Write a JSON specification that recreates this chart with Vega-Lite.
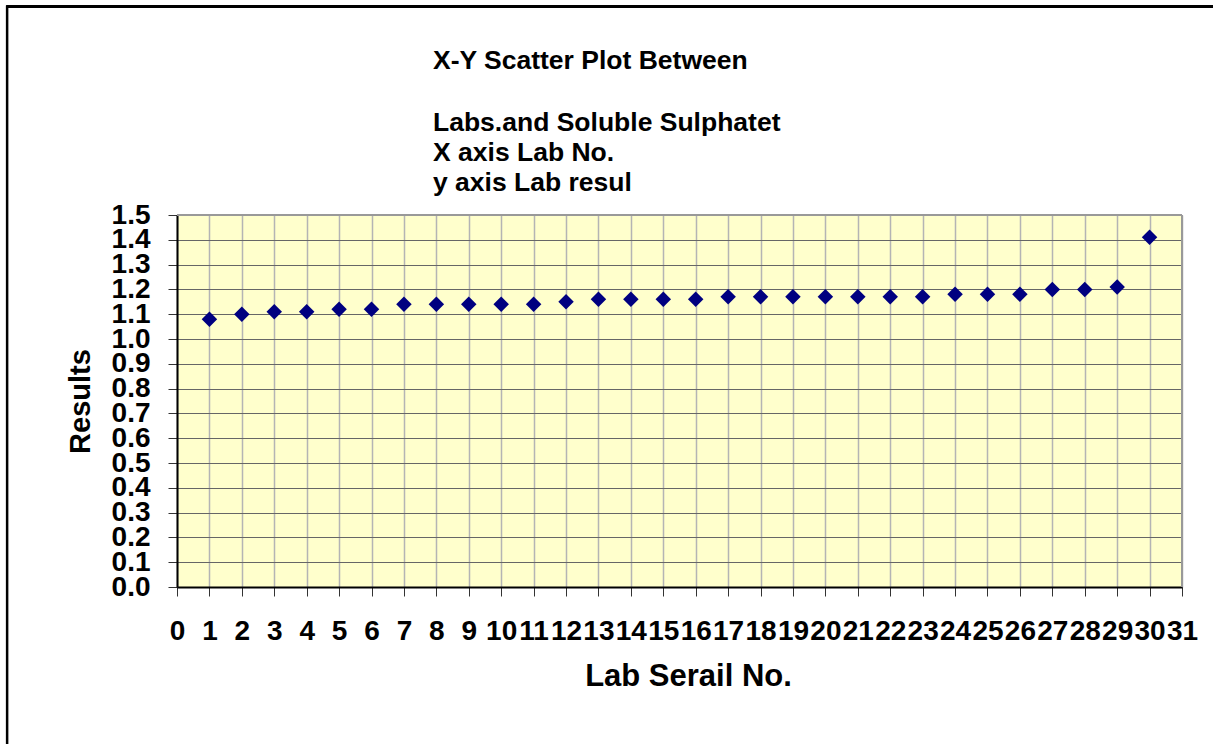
{
  "$schema": "https://vega.github.io/schema/vega-lite/v6.json",
  "width": 1005,
  "height": 372,
  "autosize": {"type": "none"},
  "padding": {"left": 177, "top": 215, "right": 31, "bottom": 157},
  "background": "white",
  "config": {
    "view": {"stroke": null, "fill": "#FFFFCC"},
    "font": "Liberation Sans",
    "axisX": {
      "grid": true, "gridColor": "#b4b4b4", "gridWidth": 1.5,
      "domainColor": "black", "domainWidth": 2,
      "tickColor": "#333333", "tickSize": 9, "tickWidth": 1,
      "labelFontSize": 28, "labelFontWeight": "bold", "labelColor": "black",
      "labelPadding": 21, "labelOverlap": false, "labelFlush": false, "labelBound": false,
      "titleFontSize": 31, "titleFontWeight": "bold", "titleColor": "black",
      "titlePadding": 16, "titleX": 511
    },
    "axisY": {
      "grid": true, "gridColor": "#666666", "gridWidth": 1,
      "domainColor": "black", "domainWidth": 2,
      "tickColor": "#333333", "tickSize": 9, "tickWidth": 1,
      "labelFontSize": 28, "labelFontWeight": "bold", "labelColor": "black",
      "labelPadding": 18, "labelOverlap": false, "labelFlush": false, "labelBound": false,
      "titleFontSize": 29, "titleFontWeight": "bold", "titleColor": "black",
      "titlePadding": 16
    }
  },
  "title": {
    "text": "X-Y Scatter Plot Between",
    "subtitle": ["Labs.and Soluble Sulphatet", "X axis Lab No.", "y axis Lab resul"],
    "anchor": "start",
    "frame": "group",
    "dx": 256,
    "dy": 210,
    "fontSize": 26.5,
    "fontWeight": "bold",
    "font": "Liberation Sans",
    "lineHeight": 30.5,
    "color": "black",
    "subtitleFont": "Liberation Sans",
    "subtitleFontSize": 26.5,
    "subtitleFontWeight": "bold",
    "subtitleColor": "black",
    "subtitleLineHeight": 30,
    "subtitlePadding": 35,
    "offset": 18
  },
  "layer": [
    {
      "data": {"values": [
        {"lab": 1, "result": 1.08}, {"lab": 2, "result": 1.10}, {"lab": 3, "result": 1.11},
        {"lab": 4, "result": 1.11}, {"lab": 5, "result": 1.12}, {"lab": 6, "result": 1.12},
        {"lab": 7, "result": 1.14}, {"lab": 8, "result": 1.14}, {"lab": 9, "result": 1.14},
        {"lab": 10, "result": 1.14}, {"lab": 11, "result": 1.14}, {"lab": 12, "result": 1.15},
        {"lab": 13, "result": 1.16}, {"lab": 14, "result": 1.16}, {"lab": 15, "result": 1.16},
        {"lab": 16, "result": 1.16}, {"lab": 17, "result": 1.17}, {"lab": 18, "result": 1.17},
        {"lab": 19, "result": 1.17}, {"lab": 20, "result": 1.17}, {"lab": 21, "result": 1.17},
        {"lab": 22, "result": 1.17}, {"lab": 23, "result": 1.17}, {"lab": 24, "result": 1.18},
        {"lab": 25, "result": 1.18}, {"lab": 26, "result": 1.18}, {"lab": 27, "result": 1.20},
        {"lab": 28, "result": 1.20}, {"lab": 29, "result": 1.21}, {"lab": 30, "result": 1.41}
      ]},
      "mark": {"type": "point", "shape": "diamond", "filled": true, "color": "#000080", "size": 240, "opacity": 1},
      "encoding": {
        "x": {
          "field": "lab", "type": "quantitative",
          "scale": {"domain": [0, 31], "nice": false, "zero": false},
          "axis": {"values": [0,1,2,3,4,5,6,7,8,9,10,11,12,13,14,15,16,17,18,19,20,21,22,23,24,25,26,27,28,29,30,31], "title": "Lab Serail No."}
        },
        "y": {
          "field": "result", "type": "quantitative",
          "scale": {"domain": [0, 1.5], "nice": false, "zero": false},
          "axis": {"values": [0, 0.1, 0.2, 0.3, 0.4, 0.5, 0.6, 0.7, 0.8, 0.9, 1.0, 1.1, 1.2, 1.3, 1.4, 1.5], "format": ".1f", "title": "Results"}
        }
      }
    },
    {
      "data": {"values": [{"a": 1}]},
      "mark": {"type": "rule", "color": "#999999", "strokeWidth": 2},
      "encoding": {
        "y": {"datum": 1.5, "type": "quantitative", "axis": {"values": [0, 0.1, 0.2, 0.3, 0.4, 0.5, 0.6, 0.7, 0.8, 0.9, 1.0, 1.1, 1.2, 1.3, 1.4, 1.5], "format": ".1f", "title": "Results"}},
        "x": {"datum": 0, "type": "quantitative", "axis": {"values": [0,1,2,3,4,5,6,7,8,9,10,11,12,13,14,15,16,17,18,19,20,21,22,23,24,25,26,27,28,29,30,31], "title": "Lab Serail No."}},
        "x2": {"datum": 31}
      }
    },
    {
      "data": {"values": [{"a": 1}]},
      "mark": {"type": "rule", "color": "#999999", "strokeWidth": 2},
      "encoding": {
        "x": {"datum": 31, "type": "quantitative", "axis": {"values": [0,1,2,3,4,5,6,7,8,9,10,11,12,13,14,15,16,17,18,19,20,21,22,23,24,25,26,27,28,29,30,31], "title": "Lab Serail No."}},
        "y": {"datum": 0, "type": "quantitative", "axis": {"values": [0, 0.1, 0.2, 0.3, 0.4, 0.5, 0.6, 0.7, 0.8, 0.9, 1.0, 1.1, 1.2, 1.3, 1.4, 1.5], "format": ".1f", "title": "Results"}},
        "y2": {"datum": 1.5}
      }
    },
    {
      "data": {"values": [{"a": 1}]},
      "mark": {"type": "rule", "color": "black", "strokeWidth": 3, "clip": false},
      "encoding": {
        "y": {"datum": 2.341, "type": "quantitative", "axis": {"values": [0, 0.1, 0.2, 0.3, 0.4, 0.5, 0.6, 0.7, 0.8, 0.9, 1.0, 1.1, 1.2, 1.3, 1.4, 1.5], "format": ".1f", "title": "Results"}},
        "x": {"datum": -5.27, "type": "quantitative", "axis": {"values": [0,1,2,3,4,5,6,7,8,9,10,11,12,13,14,15,16,17,18,19,20,21,22,23,24,25,26,27,28,29,30,31], "title": "Lab Serail No."}},
        "x2": {"datum": 32}
      }
    },
    {
      "data": {"values": [{"a": 1}]},
      "mark": {"type": "rule", "color": "black", "strokeWidth": 2.5, "clip": false},
      "encoding": {
        "x": {"datum": -5.24, "type": "quantitative", "axis": {"values": [0,1,2,3,4,5,6,7,8,9,10,11,12,13,14,15,16,17,18,19,20,21,22,23,24,25,26,27,28,29,30,31], "title": "Lab Serail No."}},
        "y": {"datum": 2.345, "type": "quantitative", "axis": {"values": [0, 0.1, 0.2, 0.3, 0.4, 0.5, 0.6, 0.7, 0.8, 0.9, 1.0, 1.1, 1.2, 1.3, 1.4, 1.5], "format": ".1f", "title": "Results"}},
        "y2": {"datum": -0.7}
      }
    }
  ]
}
